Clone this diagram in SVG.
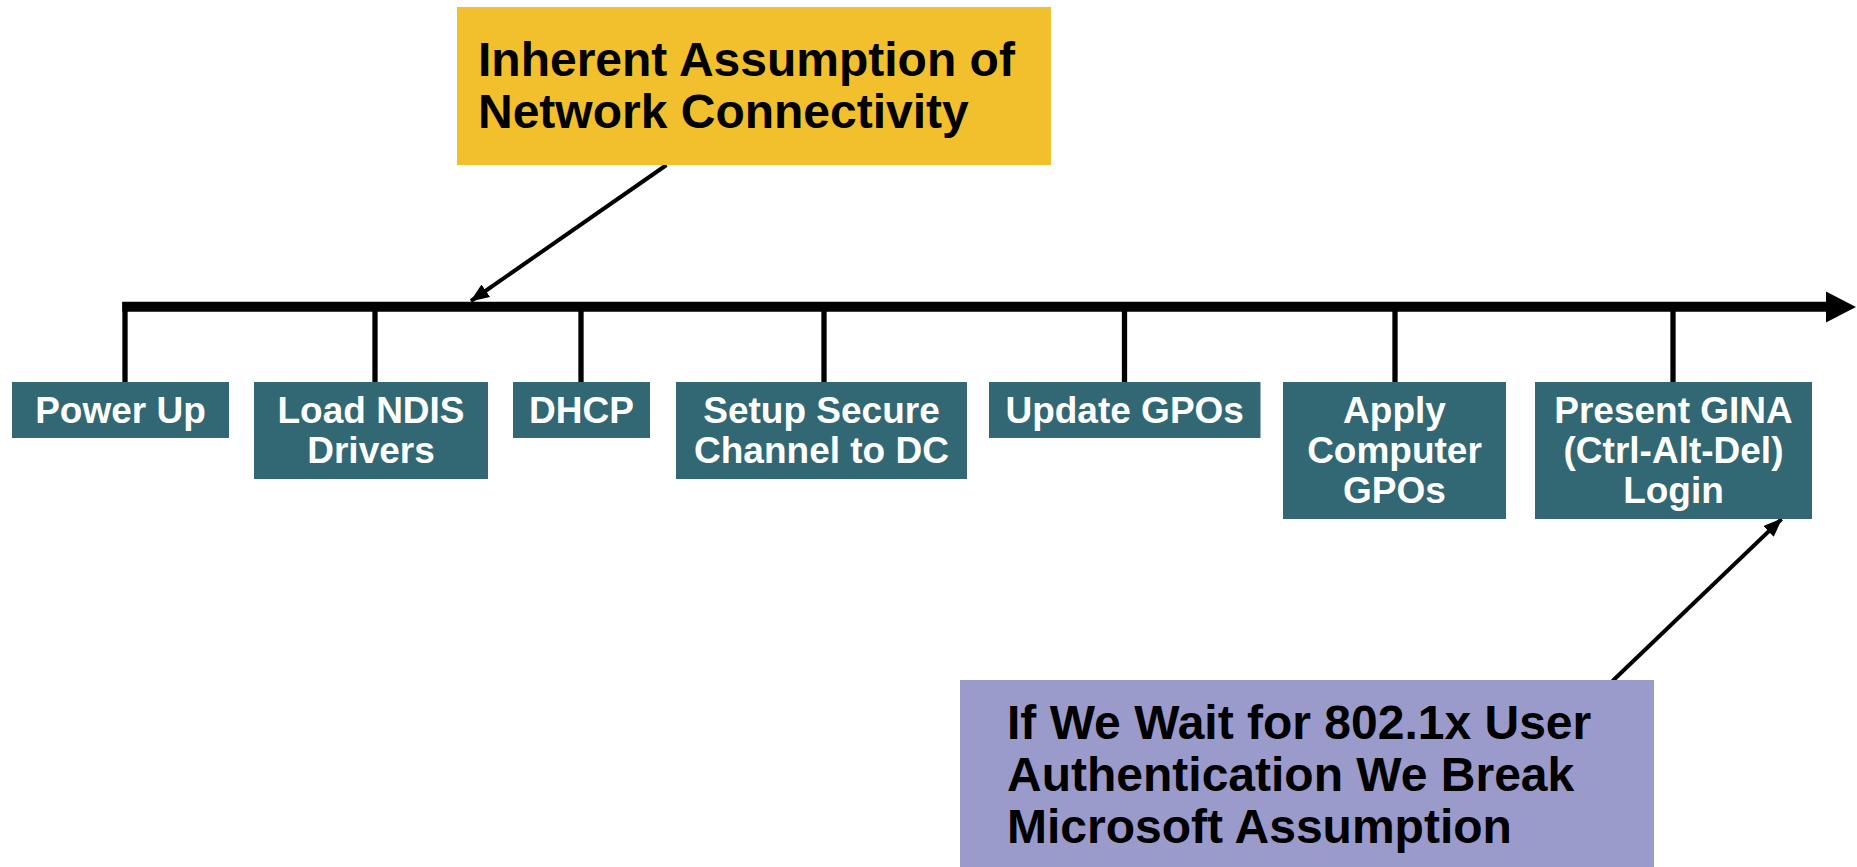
<svg xmlns="http://www.w3.org/2000/svg" width="1857" height="867" viewBox="0 0 1857 867">
  <style>
    .step rect { fill: #316873; }
    .step text { font-family: "Liberation Sans", Arial, sans-serif; font-weight: bold; font-size: 37px; fill: #ffffff; text-anchor: middle; }
    .note text { font-family: "Liberation Sans", Arial, sans-serif; font-weight: bold; font-size: 48px; fill: #000000; }
    .tick { stroke: #000000; stroke-width: 5.3; fill: none; }
    .callout { stroke: #000000; stroke-width: 4; fill: none; }
  </style>
  <defs>
    <marker id="head" viewBox="0 0 19 15" refX="18" refY="7.5" markerWidth="19" markerHeight="15" markerUnits="userSpaceOnUse" orient="auto">
      <path d="M0,0 L19,7.5 L0,15 Z" fill="#000000"/>
    </marker>
  </defs>
  <rect width="1857" height="867" fill="#ffffff"/>

  <!-- timeline with step ticks -->
  <g id="connectors">
    <line x1="122.3" y1="306.8" x2="1830" y2="306.8" stroke="#000000" stroke-width="10"/>
    <path d="M1826,291.5 L1856,307 L1826,322.5 Z" fill="#000000"/>
    <line class="tick" x1="125" y1="302" x2="125" y2="382"/>
    <line class="tick" x1="375" y1="302" x2="375" y2="382"/>
    <line class="tick" x1="581" y1="302" x2="581" y2="382"/>
    <line class="tick" x1="824" y1="302" x2="824" y2="382"/>
    <line class="tick" x1="1124.5" y1="302" x2="1124.5" y2="382"/>
    <line class="tick" x1="1395" y1="302" x2="1395" y2="382"/>
    <line class="tick" x1="1673" y1="302" x2="1673" y2="382"/>
    <line class="callout" x1="666.5" y1="165" x2="471" y2="301" marker-end="url(#head)"/>
    <line class="callout" x1="1612.5" y1="681" x2="1781.5" y2="519" marker-end="url(#head)"/>
  </g>

  <!-- boot sequence steps -->
  <g id="power-up" class="step">
    <rect x="12" y="382" width="217" height="56"/>
    <text x="120.5" y="423">Power Up</text>
  </g>
  <g id="load-ndis" class="step">
    <rect x="254" y="382" width="234" height="97"/>
    <text x="371" y="423">Load NDIS</text>
    <text x="371" y="463">Drivers</text>
  </g>
  <g id="dhcp" class="step">
    <rect x="513" y="382" width="137" height="56"/>
    <text x="581.5" y="423">DHCP</text>
  </g>
  <g id="secure-channel" class="step">
    <rect x="676" y="382" width="291" height="97"/>
    <text x="821.5" y="423">Setup Secure</text>
    <text x="821.5" y="463">Channel to DC</text>
  </g>
  <g id="update-gpos" class="step">
    <rect x="989" y="382" width="271.5" height="56"/>
    <text x="1124.7" y="423">Update GPOs</text>
  </g>
  <g id="apply-gpos" class="step">
    <rect x="1283" y="382" width="223" height="137"/>
    <text x="1394.5" y="422.5">Apply</text>
    <text x="1394.5" y="462.5">Computer</text>
    <text x="1394.5" y="502.5">GPOs</text>
  </g>
  <g id="gina" class="step">
    <rect x="1535" y="382" width="277" height="137"/>
    <text x="1673.5" y="422.5">Present GINA</text>
    <text x="1673.5" y="462.5">(Ctrl-Alt-Del)</text>
    <text x="1673.5" y="502.5">Login</text>
  </g>

  <!-- annotations -->
  <g id="network-assumption" class="note">
    <rect x="457" y="7" width="594" height="158" fill="#F2BF2D"/>
    <text x="478" y="76">Inherent Assumption of</text>
    <text x="478" y="128">Network Connectivity</text>
  </g>
  <g id="dot1x-note" class="note">
    <rect x="960" y="680" width="694" height="190" fill="#9A9ACB"/>
    <text x="1007" y="739">If We Wait for 802.1x User</text>
    <text x="1007" y="791">Authentication We Break</text>
    <text x="1007" y="843">Microsoft Assumption</text>
  </g>
</svg>
